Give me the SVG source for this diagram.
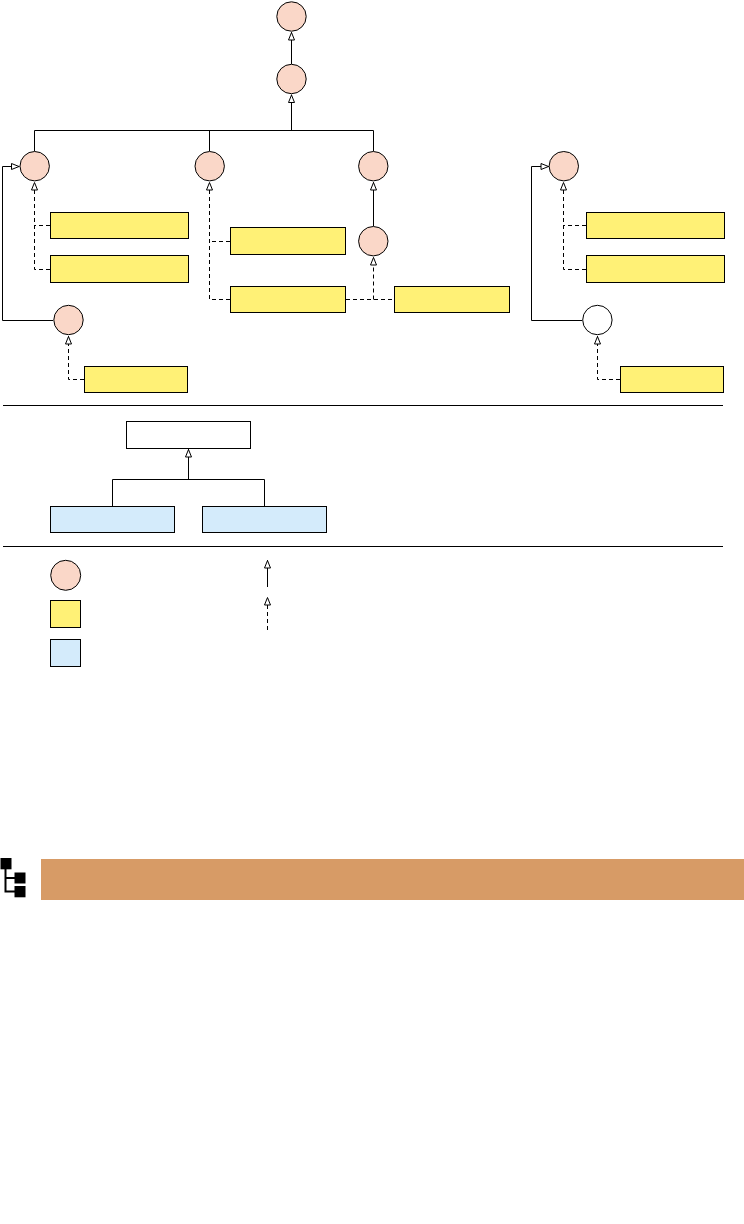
<svg xmlns="http://www.w3.org/2000/svg" width="744" height="1224" viewBox="0 0 744 1224">
<style>
.p{fill:#fad7c8;stroke:#000;stroke-width:1}
.w{fill:#fff;stroke:#000;stroke-width:1}
.y{fill:#fff176;stroke:#000;stroke-width:1}
.b{fill:#d4ebfb;stroke:#000;stroke-width:1}
.c{fill:none;stroke:#000;stroke-width:1}
.a{marker-end:url(#h)}
.d{stroke-dasharray:4 3}
.k{fill:#000}
.i{fill:none;stroke:#000;stroke-width:2}
</style>
<defs>
<marker id="h" markerUnits="userSpaceOnUse" markerWidth="12" markerHeight="10" refX="9.500" refY="5" orient="auto">
<path d="M1.500 2L9 5L1.500 8Z" fill="#fff" stroke="#000" stroke-width="1"/>
</marker>
</defs>
<g id="connectors">
<path class="c a" d="M291.500 64V32"/>
<path class="c a" d="M291.500 130.500V94.500"/>
<path class="c" d="M34.500 151V130.500H373.500V151M209.500 130.500V151"/>
<path class="c a" d="M373.500 226V182"/>
<path class="c a" d="M53 320.500H2.500V166.500H19.500"/>
<path class="c a" d="M582 320.500H531.500V166.500H549"/>
<path class="c d a" d="M50 225.500H34.500M50 269.500H34.500V182"/>
<path class="c d a" d="M230 241.500H209.500M230 299.500H209.500V182"/>
<path class="c d" d="M346 299.500H394"/>
<path class="c d a" d="M373.500 299.500V257"/>
<path class="c d a" d="M84 379.500H68.500V336"/>
<path class="c d a" d="M586 225.500H563.500M586 269.500H563.500V182"/>
<path class="c d a" d="M620 379.500H597.500V336"/>
<path class="c a" d="M188.500 479.500V449"/>
<path class="c" d="M112.500 506V479.500H264.500V506"/>
<path class="c a" d="M267.500 587V560"/>
<path class="c d a" d="M267.500 630V597"/>
</g>
<g id="dividers">
<path class="c" d="M3 405.500H723M3 546.500H723"/>
</g>
<g id="n1"><circle class="p" cx="291.500" cy="16.500" r="14.700"/></g>
<g id="n2"><circle class="p" cx="291.500" cy="79" r="14.700"/></g>
<g id="n3"><circle class="p" cx="34.700" cy="166.200" r="14.700"/></g>
<g id="n4"><circle class="p" cx="209.700" cy="166.200" r="14.700"/></g>
<g id="n5"><circle class="p" cx="373.300" cy="166.200" r="14.700"/></g>
<g id="n6"><circle class="p" cx="373.300" cy="241.200" r="14.700"/></g>
<g id="n7"><circle class="p" cx="68.500" cy="320" r="14.700"/></g>
<g id="n8"><circle class="p" cx="563.800" cy="166.200" r="14.700"/></g>
<g id="n9"><circle class="w" cx="597.400" cy="320" r="14.700"/></g>
<g id="r1"><rect class="y" x="50.500" y="212.500" width="138" height="26"/></g>
<g id="r2"><rect class="y" x="50.500" y="255.500" width="138" height="27"/></g>
<g id="r3"><rect class="y" x="230.500" y="227.500" width="115" height="27"/></g>
<g id="r4"><rect class="y" x="230.500" y="286.500" width="115" height="26"/></g>
<g id="r5"><rect class="y" x="394.500" y="286.500" width="115" height="26"/></g>
<g id="r6"><rect class="y" x="84.500" y="366.500" width="103" height="26"/></g>
<g id="r7"><rect class="y" x="586.500" y="212.500" width="138" height="26"/></g>
<g id="r8"><rect class="y" x="586.500" y="255.500" width="138" height="27"/></g>
<g id="r9"><rect class="y" x="620.500" y="366.500" width="103" height="26"/></g>
<g id="m1"><rect class="w" x="126.500" y="421.500" width="124" height="27"/></g>
<g id="m2"><rect class="b" x="50.500" y="506.500" width="124" height="26"/></g>
<g id="m3"><rect class="b" x="202.500" y="506.500" width="124" height="26"/></g>
<g id="l1"><circle class="p" cx="65.700" cy="575.300" r="15"/></g>
<g id="l2"><rect class="y" x="50.500" y="600.500" width="30" height="27"/></g>
<g id="l3"><rect class="b" x="50.500" y="639.500" width="30" height="27"/></g>
<g id="icon">
<path class="i" d="M5.500 869V891.500H15M5.500 878H15"/>
<rect class="k" x="0.500" y="858" width="11" height="11.300"/>
<rect class="k" x="14.500" y="872.500" width="11" height="11"/>
<rect class="k" x="14.500" y="886" width="11" height="11.300"/>
</g>
<g id="band"><rect x="41" y="859" width="703" height="41" fill="#d79b66"/></g>
</svg>
